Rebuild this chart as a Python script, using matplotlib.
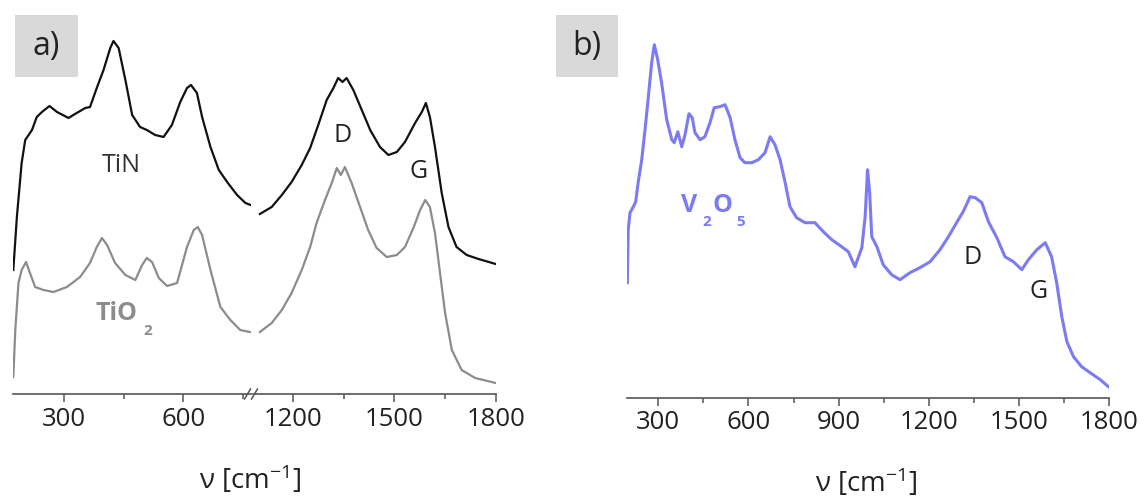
"""Raman spectra: a) TiN / TiO2 with broken axis, b) V2O5."""

import matplotlib.pyplot as plt
from matplotlib.lines import Line2D
from matplotlib.patches import Rectangle
from matplotlib.ticker import FixedLocator

plt.rcParams["font.family"] = ["Open Sans", "DejaVu Sans"]
plt.rcParams["mathtext.default"] = "regular"
plt.rcParams["axes.unicode_minus"] = False

# panel a, low wavenumber segment (cm-1, arb. units)
TIN_LOW_NU = [172, 181, 193, 202, 219, 231, 244, 263, 282, 311, 323, 353, 365, 382, 399, 416,
              424, 437, 454, 471, 491, 508, 529, 550, 571, 592, 609, 619, 634, 647, 668, 689,
              710, 735, 756, 769]
TIN_LOW_I = [124, 177, 231, 254, 264, 277, 282, 288, 282, 276, 279, 286, 287, 306, 324, 346,
             353, 346, 314, 279, 267, 264, 259, 257, 269, 292, 306, 309, 301, 277, 247, 224,
             212, 199, 191, 189]
TIO2_LOW_NU = [172, 177, 185, 193, 204, 214, 227, 248, 273, 307, 340, 365, 382, 395, 408, 428,
               454, 479, 496, 508, 521, 538, 559, 584, 609, 626, 636, 647, 668, 693, 718, 743,
               767]
TIO2_LOW_I = [17, 64, 111, 124, 132, 121, 107, 104, 102, 107, 117, 131, 147, 156, 149, 131,
              119, 114, 129, 136, 132, 116, 108, 111, 147, 164, 167, 159, 124, 87, 74, 64, 62]

# panel a, high wavenumber segment (D and G bands)
TIN_HIGH_NU = [1101, 1136, 1166, 1195, 1225, 1250, 1274, 1299, 1319, 1333, 1346, 1358, 1378,
               1403, 1428, 1457, 1482, 1507, 1531, 1561, 1581, 1593, 1605, 1620, 1640, 1660,
               1684, 1714, 1749, 1800]
TIN_HIGH_I = [180, 187, 199, 212, 229, 246, 269, 294, 306, 316, 312, 316, 304, 284, 264, 247,
              239, 242, 252, 271, 282, 291, 277, 247, 201, 167, 147, 139, 135, 130]
TIO2_HIGH_NU = [1101, 1136, 1166, 1195, 1225, 1250, 1269, 1294, 1314, 1329, 1341, 1353, 1373,
                1398, 1422, 1447, 1477, 1507, 1531, 1556, 1576, 1591, 1605, 1620, 1635, 1650,
                1670, 1699, 1739, 1800]
TIO2_HIGH_I = [62, 71, 84, 101, 124, 147, 171, 194, 211, 226, 219, 227, 211, 187, 164, 146,
               137, 139, 147, 166, 184, 194, 187, 161, 121, 81, 44, 24, 16, 11]

# panel b
V2O5_NU = [197, 200, 206, 217, 225, 233, 245, 256, 267, 278, 287, 298, 311, 328, 345, 353,
           365, 378, 389, 402, 413, 422, 439, 455, 472, 486, 505, 522, 539, 555, 572, 588,
           611, 633, 655, 672, 688, 705, 722, 738, 760, 788, 821, 849, 877, 910, 932, 954,
           977, 988, 996, 1003, 1010, 1027, 1048, 1076, 1104, 1137, 1170, 1204, 1237, 1265,
           1292, 1314, 1337, 1354, 1376, 1398, 1426, 1453, 1481, 1509, 1531, 1559, 1587,
           1608, 1625, 1642, 1659, 1681, 1708, 1736, 1770, 1797]
V2O5_I = [115, 168, 185, 191, 196, 215, 238, 268, 301, 335, 353, 338, 315, 278, 258, 255,
          266, 251, 263, 284, 280, 265, 258, 261, 275, 290, 291, 293, 280, 258, 240, 235,
          235, 238, 245, 261, 253, 238, 215, 191, 180, 175, 175, 166, 158, 151, 146, 131,
          150, 181, 228, 205, 161, 151, 133, 123, 118, 125, 130, 136, 148, 161, 175, 186,
          201, 200, 195, 176, 160, 141, 136, 128, 138, 148, 155, 141, 115, 81, 56, 41,
          31, 25, 18, 11]

LOW_TICKS = [300, 600]
LOW_MINOR = [450, 750]
HIGH_TICKS = [1200, 1500, 1800]
HIGH_MINOR = [1350, 1650]
B_TICKS = [300, 600, 900, 1200, 1500, 1800]
B_MINOR = [450, 750, 1050, 1350, 1650]

BLACK = "#111111"
GREY = "#8c8c8c"
BLUE = "#7b7bf3"
AXIS = "#555555"
W, H = 1145, 501


def _style_axis(ax, major, minor):
    for side in ("left", "right", "top"):
        ax.spines[side].set_visible(False)
    ax.spines["bottom"].set_color(AXIS)
    ax.spines["bottom"].set_linewidth(1.2)
    ax.set_yticks([])
    ax.xaxis.set_major_locator(FixedLocator(major))
    ax.xaxis.set_minor_locator(FixedLocator(minor))
    ax.tick_params(axis="x", which="major", direction="out", length=6, width=1.1,
                   color=AXIS, labelsize=18.5, labelcolor="#222222", pad=3)
    ax.tick_params(axis="x", which="minor", direction="out", length=3.5, width=1.1,
                   color=AXIS)
    ax.patch.set_alpha(0)


def _fig_rect(x0, y0, x1, y1):
    """Pixel box (top-left origin) to figure fraction [left, bottom, width, height]."""
    return [x0 / W, (H - y1) / H, (x1 - x0) / W, (y1 - y0) / H]


def _panel_label(fig, text, x0, y0, x1, y1):
    l, b, w, h = _fig_rect(x0, y0, x1, y1)
    fig.add_artist(Rectangle((l, b), w, h, transform=fig.transFigure,
                             facecolor="#d9d9d9", edgecolor="none"))
    fig.text(l + w / 2, b + h / 2, text, ha="center", va="center", fontsize=23,
             color="#222222")


fig = plt.figure(figsize=(W / 100, H / 100), dpi=100)

# panel a, split axis
ax_lo = fig.add_axes(_fig_rect(13.3, 34, 251.0, 394))
ax_hi = fig.add_axes(_fig_rect(252.8, 34, 495.7, 394))
for ax in (ax_lo, ax_hi):
    ax.set_ylim(0, 360)
ax_lo.set_xlim(172, 770)
ax_hi.set_xlim(1080, 1800)
_style_axis(ax_lo, LOW_TICKS, LOW_MINOR)
_style_axis(ax_hi, HIGH_TICKS, HIGH_MINOR)

ax_lo.plot(TIN_LOW_NU, TIN_LOW_I, color=BLACK, lw=1.6)
ax_lo.plot(TIO2_LOW_NU, TIO2_LOW_I, color=GREY, lw=1.6)
ax_hi.plot(TIN_HIGH_NU, TIN_HIGH_I, color=BLACK, lw=1.6)
ax_hi.plot(TIO2_HIGH_NU, TIO2_HIGH_I, color=GREY, lw=1.6)

ax_lo.text(443, 229, "TiN", ha="center", va="center", fontsize=18, color="#333333")
ax_lo.text(431, 80, "TiO", ha="center", va="center", fontsize=18, color=GREY,
           fontweight="bold")
ax_lo.text(511, 63, "2", ha="center", va="center", fontsize=11, color=GREY,
           fontweight="bold")
ax_hi.text(1346, 259, "D", ha="center", va="center", fontsize=18, color="#222222")
ax_hi.text(1570, 222, "G", ha="center", va="center", fontsize=18, color="#222222")

# axis break marks
for xb in (247.5, 254.5):
    fig.add_artist(Line2D([(xb - 3) / W, (xb + 3) / W], [(H - 399) / H, (H - 389) / H],
                          transform=fig.transFigure, color=AXIS, lw=1.1))

fig.text(250 / W, (H - 480) / H, r"ν [cm$^{-1}$]", ha="center", va="center",
         fontsize=20, color="#222222")

# panel b
ax_b = fig.add_axes(_fig_rect(626.7, 27.7, 1109.3, 397.7))
ax_b.set_xlim(195, 1800)
ax_b.set_ylim(0, 370)
_style_axis(ax_b, B_TICKS, B_MINOR)
ax_b.plot(V2O5_NU, V2O5_I, color=BLUE, lw=2.2)

for nu, inten, label, size in ((402, 192, "V", 18), (462, 176, "2", 11),
                               (513, 192, "O", 18), (575, 176, "5", 11)):
    ax_b.text(nu, inten, label, ha="center", va="center", fontsize=size, color=BLUE,
              fontweight="bold")
ax_b.text(1345, 140, "D", ha="center", va="center", fontsize=18, color="#222222")
ax_b.text(1566, 106, "G", ha="center", va="center", fontsize=18, color="#222222")

fig.text(866 / W, (H - 483) / H, r"ν [cm$^{-1}$]", ha="center", va="center",
         fontsize=20, color="#222222")

_panel_label(fig, "a)", 15, 15, 78, 77)
_panel_label(fig, "b)", 556, 15, 618, 77)

fig.savefig("out.png", dpi=100)
plt.close(fig)
